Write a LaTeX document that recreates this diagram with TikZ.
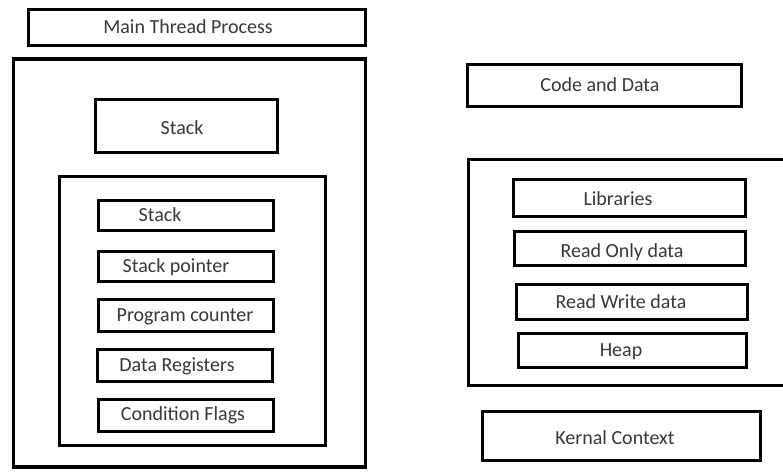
\documentclass[tikz,border=0pt]{standalone}
\usepackage{fontspec}
\setmainfont{Carlito}
\begin{document}
\begin{tikzpicture}[x=1pt,y=-1pt,
  box/.style={draw=black, line width=3.2pt, inner sep=0pt, fill=none},
  lbl/.style={inner sep=0pt, text=black!78, font=\fontsize{20}{22}\selectfont, text height=13pt, text depth=0pt}]
\useasboundingbox (0,0) rectangle (783,472);
\clip (0,0) rectangle (783,472);
\fill[white] (0,0) rectangle (783,472);
% left side
\node[box, minimum width=337pt, minimum height=36pt] (mtp) at (197,27.5) {};
\node[lbl] (mtpt) at (188,26.5) {Main Thread Process};
\node[box, minimum width=352pt, minimum height=408pt] (outer) at (189.5,263) {};
\node[box, minimum width=182pt, minimum height=53pt] (bstack) at (186.5,126) {};
\node[lbl] (bstackt) at (182,127.5) {Stack};
\node[box, minimum width=266pt, minimum height=269pt] (inner) at (192.5,311) {};
\node[box, minimum width=175pt, minimum height=30pt] (s1) at (186,215.5) {};
\node[lbl] (s1t) at (160,215) {Stack};
\node[box, minimum width=175pt, minimum height=30pt] (s2) at (186,266.5) {};
\node[lbl] (s2t) at (176,266) {Stack pointer};
\node[box, minimum width=175pt, minimum height=32pt] (s3) at (186,315.5) {};
\node[lbl] (s3t) at (185,315) {Program counter};
\node[box, minimum width=175pt, minimum height=32pt] (s4) at (185,365.5) {};
\node[lbl] (s4t) at (177,365) {Data Registers};
\node[box, minimum width=175pt, minimum height=32pt] (s5) at (186,415.5) {};
\node[lbl] (s5t) at (183,413.5) {Condition Flags};
% right side
\node[box, minimum width=274pt, minimum height=42pt] (code) at (604.5,85.5) {};
\node[lbl] (codet) at (600,85) {Code and Data};
\node[box, minimum width=346pt, minimum height=226pt] (router) at (641.5,272.5) {};
\node[box, minimum width=232pt, minimum height=37pt] (lib) at (629.5,198) {};
\node[lbl] (libt) at (618,198.5) {Libraries};
\node[box, minimum width=231pt, minimum height=34pt] (ro) at (630,248.5) {};
\node[lbl] (rot) at (622,250.5) {Read Only data};
\node[box, minimum width=231pt, minimum height=35pt] (rw) at (632,302) {};
\node[lbl] (rwt) at (621,301.5) {Read Write data};
\node[box, minimum width=228pt, minimum height=34pt] (heap) at (632.5,350.5) {};
\node[lbl] (heapt) at (621,350) {Heap};
\node[box, minimum width=278pt, minimum height=49pt] (kern) at (621.5,436) {};
\node[lbl] (kernt) at (615,438) {Kernal Context};
\end{tikzpicture}
\end{document}
